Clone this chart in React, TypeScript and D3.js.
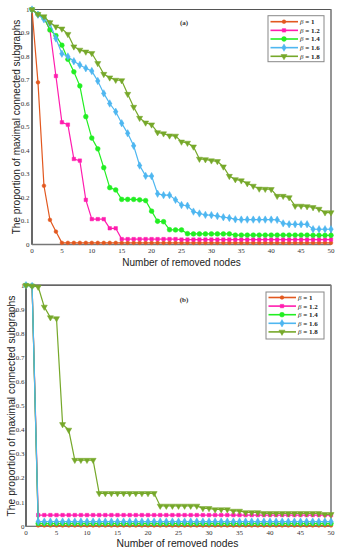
import React from "react";
import * as d3 from "d3";

const XS = d3.range(0, 51);
const X_TICKS = [0, 5, 10, 15, 20, 25, 30, 35, 40, 45, 50];
const Y_TICKS = [0, 0.1, 0.2, 0.3, 0.4, 0.5, 0.6, 0.7, 0.8, 0.9, 1];
const Y_TICK_LABELS = ["0", "0.1", "0.2", "0.3", "0.4", "0.5", "0.6", "0.7", "0.8", "0.9", "1"];
const SERIES_NAMES = ["1", "1.2", "1.4", "1.6", "1.8"];
const COLORS = ["#E2581F", "#FF1CAE", "#22EE22", "#4FB7F0", "#76A82A"];
const X_TITLE = "Number of removed nodes";
const Y_TITLE = "The proportion of maximal connected subgraphs";

// Panel (a)
const A_B10 = [1, 0.69, 0.25, 0.105, 0.055, 0.007, 0.007, 0.007, 0.007, 0.007, 0.007, 0.007, 0.007, 0.007, 0.007, 0.007, 0.007, 0.007, 0.007, 0.007, 0.007, 0.007, 0.007, 0.007, 0.007, 0.007, 0.007, 0.007, 0.007, 0.007, 0.007, 0.007, 0.007, 0.007, 0.007, 0.007, 0.007, 0.007, 0.007, 0.007, 0.007, 0.007, 0.007, 0.007, 0.007, 0.007, 0.007, 0.007, 0.007, 0.007, 0.007];
const A_B12 = [1, 0.98, 0.965, 0.913, 0.717, 0.52, 0.51, 0.364, 0.357, 0.19, 0.108, 0.108, 0.108, 0.069, 0.069, 0.023, 0.023, 0.023, 0.023, 0.023, 0.023, 0.023, 0.023, 0.023, 0.023, 0.021, 0.021, 0.021, 0.021, 0.021, 0.021, 0.021, 0.021, 0.021, 0.021, 0.021, 0.021, 0.021, 0.021, 0.021, 0.021, 0.021, 0.021, 0.021, 0.021, 0.021, 0.021, 0.021, 0.021, 0.021, 0.021];
const A_B14 = [1, 0.98, 0.965, 0.913, 0.889, 0.848, 0.788, 0.735, 0.675, 0.544, 0.453, 0.407, 0.327, 0.242, 0.232, 0.192, 0.192, 0.192, 0.19, 0.187, 0.142, 0.099, 0.097, 0.063, 0.062, 0.062, 0.046, 0.045, 0.045, 0.045, 0.045, 0.045, 0.045, 0.045, 0.04, 0.04, 0.04, 0.04, 0.04, 0.04, 0.04, 0.04, 0.04, 0.04, 0.04, 0.04, 0.04, 0.039, 0.039, 0.039, 0.039];
const A_B16 = [1, 0.978, 0.958, 0.94, 0.877, 0.812, 0.8, 0.78, 0.764, 0.75, 0.738, 0.696, 0.643, 0.6, 0.565, 0.516, 0.473, 0.42, 0.336, 0.292, 0.291, 0.216, 0.21, 0.21, 0.19, 0.168, 0.165, 0.14, 0.132, 0.126, 0.125, 0.121, 0.116, 0.113, 0.107, 0.106, 0.106, 0.106, 0.106, 0.106, 0.106, 0.105, 0.09, 0.086, 0.086, 0.086, 0.086, 0.065, 0.065, 0.065, 0.065];
const A_B18 = [1, 0.98, 0.97, 0.945, 0.927, 0.918, 0.895, 0.842, 0.828, 0.82, 0.814, 0.771, 0.725, 0.71, 0.7, 0.698, 0.64, 0.585, 0.538, 0.518, 0.51, 0.477, 0.472, 0.463, 0.462, 0.437, 0.432, 0.416, 0.364, 0.362, 0.357, 0.354, 0.331, 0.291, 0.277, 0.272, 0.26, 0.249, 0.237, 0.236, 0.235, 0.206, 0.206, 0.2, 0.164, 0.164, 0.162, 0.158, 0.151, 0.136, 0.136];

// Panel (b)
const B_B10 = [1, 0.997, 0.004, 0.004, 0.004, 0.004, 0.004, 0.004, 0.004, 0.004, 0.004, 0.004, 0.004, 0.004, 0.004, 0.004, 0.004, 0.004, 0.004, 0.004, 0.004, 0.004, 0.004, 0.004, 0.004, 0.004, 0.004, 0.004, 0.004, 0.004, 0.004, 0.004, 0.004, 0.004, 0.004, 0.004, 0.004, 0.004, 0.004, 0.004, 0.004, 0.004, 0.004, 0.004, 0.004, 0.004, 0.004, 0.004, 0.004, 0.004, 0.004];
const B_B12 = [1, 0.997, 0.047, 0.047, 0.047, 0.047, 0.047, 0.047, 0.047, 0.047, 0.047, 0.047, 0.047, 0.047, 0.047, 0.047, 0.047, 0.047, 0.047, 0.047, 0.047, 0.047, 0.047, 0.047, 0.047, 0.047, 0.047, 0.047, 0.047, 0.047, 0.047, 0.047, 0.047, 0.047, 0.047, 0.047, 0.047, 0.047, 0.047, 0.047, 0.047, 0.047, 0.047, 0.047, 0.047, 0.047, 0.047, 0.047, 0.047, 0.047, 0.047];
const B_B14 = [1, 0.997, 0.012, 0.012, 0.012, 0.012, 0.012, 0.012, 0.012, 0.012, 0.012, 0.012, 0.012, 0.012, 0.012, 0.012, 0.012, 0.012, 0.012, 0.012, 0.012, 0.012, 0.012, 0.012, 0.012, 0.012, 0.012, 0.012, 0.012, 0.012, 0.012, 0.012, 0.012, 0.012, 0.012, 0.012, 0.012, 0.012, 0.012, 0.012, 0.012, 0.012, 0.012, 0.012, 0.012, 0.012, 0.012, 0.012, 0.012, 0.012, 0.012];
const B_B16 = [1, 0.997, 0.02, 0.02, 0.02, 0.02, 0.02, 0.02, 0.02, 0.02, 0.02, 0.02, 0.02, 0.02, 0.02, 0.02, 0.02, 0.02, 0.02, 0.02, 0.02, 0.02, 0.02, 0.02, 0.02, 0.02, 0.02, 0.02, 0.02, 0.02, 0.02, 0.02, 0.02, 0.02, 0.02, 0.02, 0.02, 0.02, 0.02, 0.02, 0.02, 0.02, 0.02, 0.02, 0.02, 0.02, 0.02, 0.02, 0.02, 0.02, 0.02];
const B_B18 = [1, 0.997, 0.993, 0.91, 0.866, 0.862, 0.423, 0.4, 0.275, 0.275, 0.275, 0.275, 0.137, 0.137, 0.137, 0.137, 0.137, 0.137, 0.137, 0.137, 0.137, 0.137, 0.085, 0.085, 0.085, 0.085, 0.085, 0.085, 0.085, 0.075, 0.075, 0.07, 0.07, 0.07, 0.064, 0.064, 0.058, 0.058, 0.058, 0.054, 0.054, 0.054, 0.054, 0.054, 0.054, 0.054, 0.054, 0.054, 0.054, 0.05, 0.05];

const SERIF = "'Liberation Serif', 'DejaVu Serif', serif";
const SANS = "'Liberation Sans', Arial, sans-serif";

type PanelCfg = {
  label: string;
  data: number[][];
  left: number; right: number; top: number; bottom: number;
  yTickRight: number; xTickBaseline: number;
  xTitleX: number; xTitleY: number; xTitleSize: number;
  yTitleX: number; yTitleY: number; yTitleSize: number;
  tagX: number; tagY: number;
  legX: number; legY: number; legW: number; legH: number; legRow0: number; legStep: number;
};

const PANELS: PanelCfg[] = [
  {
    label: "(a)", data: [A_B10, A_B12, A_B14, A_B16, A_B18],
    left: 32, right: 331, top: 9.5, bottom: 244.5,
    yTickRight: 29.5, xTickBaseline: 253.3,
    xTitleX: 181.5, xTitleY: 265.5, xTitleSize: 10,
    yTitleX: 20, yTitleY: 127, yTitleSize: 10,
    tagX: 184, tagY: 24.5,
    legX: 268, legY: 15.7, legW: 56, legH: 46, legRow0: 21.7, legStep: 8.65,
  },
  {
    label: "(b)", data: [B_B10, B_B12, B_B14, B_B16, B_B18],
    left: 26, right: 331, top: 285.2, bottom: 526.4,
    yTickRight: 24.5, xTickBaseline: 534.5,
    xTitleX: 177.5, xTitleY: 547, xTitleSize: 10.3,
    yTitleX: 14.5, yTitleY: 406, yTitleSize: 10.3,
    tagX: 184, tagY: 301.5,
    legX: 266, legY: 292, legW: 58, legH: 47, legRow0: 297.5, legStep: 8.6,
  },
];

function markerPath(i: number): string {
  const types = [d3.symbolCircle, d3.symbolSquare, d3.symbolCircle, d3.symbolDiamond, d3.symbolTriangle];
  const sizes = [11, 12, 18, 16, 16];
  return d3.symbol().type(types[i]).size(sizes[i])() || "";
}

function Marker({ i, x, y }: { i: number; x: number; y: number }) {
  const rot = i === 4 ? " rotate(180)" : "";
  return (
    <g transform={`translate(${x},${y})${rot}`}>
      <path d={markerPath(i)} fill={COLORS[i]} stroke={COLORS[i]} strokeWidth={0.5} />
      {i === 3 && (
        <path d="M-2.2,0H2.2M0,-2.2V2.2" stroke={COLORS[i]} strokeWidth={0.9} />
      )}
    </g>
  );
}

function Panel({ cfg }: { cfg: PanelCfg }) {
  const x = d3.scaleLinear().domain([0, 50]).range([cfg.left, cfg.right]);
  const y = d3.scaleLinear().domain([0, 1]).range([cfg.bottom, cfg.top]);
  const line = d3.line<number>().x((_, j) => x(XS[j])).y((v) => y(v));
  return (
    <g>
      {/* frame */}
      <rect x={cfg.left} y={cfg.top} width={cfg.right - cfg.left} height={cfg.bottom - cfg.top}
        fill="white" stroke="#6a6a6a" strokeWidth={1} />
      <line x1={cfg.left} x2={cfg.left} y1={cfg.top} y2={cfg.bottom} stroke="#555" strokeWidth={1.6} />
      <line x1={cfg.left} x2={cfg.right} y1={cfg.bottom} y2={cfg.bottom} stroke="#777" strokeWidth={1.4} />
      <line x1={cfg.left} x2={cfg.right} y1={cfg.top} y2={cfg.top} stroke="#555" strokeWidth={1.2} />
      <line x1={cfg.right} x2={cfg.right} y1={cfg.top} y2={cfg.bottom} stroke="#888" strokeWidth={1.4} />
      {/* ticks */}
      {Y_TICKS.map((t, k) => (
        <text key={"y" + k} x={cfg.yTickRight} y={y(t) + 2.3} fontSize={7} fontFamily={SERIF}
          textAnchor="end" fill="#333">{Y_TICK_LABELS[k]}</text>
      ))}
      {X_TICKS.map((t) => (
        <text key={"x" + t} x={x(t)} y={cfg.xTickBaseline} fontSize={7} fontFamily={SERIF}
          textAnchor="middle" fill="#333">{t}</text>
      ))}
      {/* series */}
      {cfg.data.map((vals, i) => (
        <g key={"s" + i}>
          <path d={line(vals) || ""} fill="none" stroke={COLORS[i]} strokeWidth={1.2} />
          {vals.map((v, j) => (
            <Marker key={j} i={i} x={x(XS[j])} y={y(v)} />
          ))}
        </g>
      ))}
      {/* titles */}
      <text x={cfg.xTitleX} y={cfg.xTitleY} fontSize={cfg.xTitleSize} fontFamily={SANS}
        textAnchor="middle" fill="#222">{X_TITLE}</text>
      <text transform={`translate(${cfg.yTitleX},${cfg.yTitleY}) rotate(-90)`} fontSize={cfg.yTitleSize}
        fontFamily={SANS} textAnchor="middle" fill="#222">{Y_TITLE}</text>
      <text x={cfg.tagX} y={cfg.tagY} fontSize={7} fontFamily={SERIF} fontWeight="bold"
        textAnchor="middle" fill="#333">{cfg.label}</text>
      {/* legend */}
      <rect x={cfg.legX} y={cfg.legY} width={cfg.legW} height={cfg.legH} fill="white"
        stroke="#888" strokeWidth={1} />
      {SERIES_NAMES.map((name, i) => {
        const ry = cfg.legRow0 + i * cfg.legStep;
        return (
          <g key={"l" + i}>
            <line x1={cfg.legX + 2.5} x2={cfg.legX + 30} y1={ry} y2={ry} stroke={COLORS[i]}
              strokeWidth={1.6} />
            <Marker i={i} x={cfg.legX + 16} y={ry} />
            <text x={cfg.legX + 32} y={ry + 2.4} fontSize={7} fontFamily={SERIF} fill="#222">
              <tspan fontStyle="italic">β</tspan>
              <tspan fontWeight="bold">{" = " + name}</tspan>
            </text>
          </g>
        );
      })}
    </g>
  );
}

export default function App() {
  return (
    <svg width={339} height={550} viewBox="0 0 339 550"
      style={{ position: "absolute", left: 0, top: 0, background: "white" }}>
      <rect x={0} y={0} width={339} height={550} fill="white" />
      {PANELS.map((p) => (
        <Panel key={p.label} cfg={p} />
      ))}
    </svg>
  );
}
